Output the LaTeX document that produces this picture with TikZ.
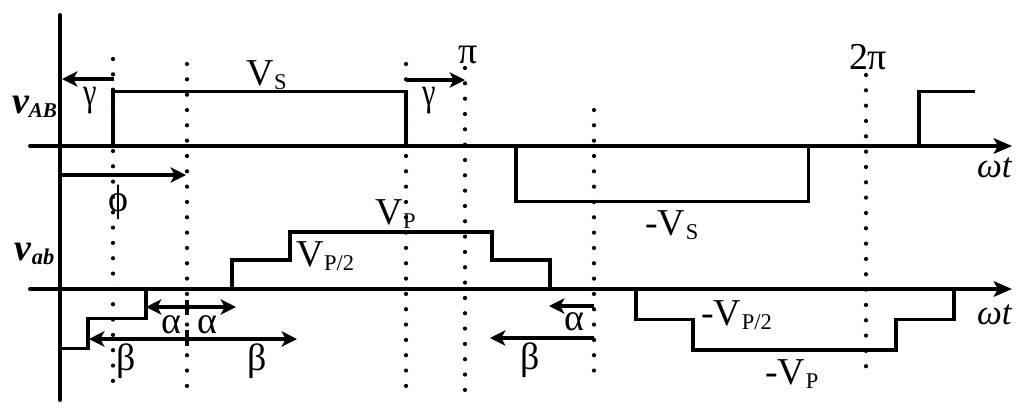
\documentclass[tikz,border=0pt]{standalone}
\usepackage{fontspec}
\setmainfont{Liberation Serif}
\usetikzlibrary{arrows.meta}
\newcommand{\bigsz}{\fontsize{27}{30}\selectfont}
\newcommand{\subsz}{\fontsize{16}{20}\selectfont}
\newcommand{\vsub}[2]{#1\kern0.5pt\raisebox{-3.5pt}{\subsz #2}}
\newcommand{\slimgamma}{\scalebox{0.8}[1.05]{γ}}
\tikzset{
  x=0.025cm,y=-0.025cm,
  axisline/.style={line width=2.8pt,line cap=round},
  wave/.style={line width=2.8pt,line join=miter},
  dimarrow/.style={line width=2.6pt,-{Stealth[length=11pt,width=11pt,inset=3pt]}},
  dimboth/.style={line width=2.6pt,{Stealth[length=11pt,width=11pt,inset=3pt]}-{Stealth[length=11pt,width=11pt,inset=3pt]}},
  tick/.style={line width=2.6pt},
  dots/.style={line width=3pt,line cap=round,dash pattern=on 0pt off 10.9pt},
  lab/.style={anchor=base west,inner sep=0pt,outer sep=0pt,font=\bigsz,text=black}
}
\begin{document}
\begin{tikzpicture}
\useasboundingbox[fill=white] (0,0) rectangle (1024,417);
% named end points
\foreach \n/\x/\y in {d1a/113/59,d1b/113/381,d2a/187/64,d2b/187/386,d3a/406/64,d3b/406/386,d4a/465/68,d4b/465/391,d5a/594/110,d5b/594/371,d6a/866/75,d6b/866/381,
 va/60/15,vb/60/400,ha/30/146,hb/1012/146,ka/30/289,kb/1012/289,
 g1a/114/79,g1b/62/79,g2a/406/80,g2b/465/80,pa/62/175,pb/186/175,
 aa/146/307,ab/236/307,ba/89/339,bb/297/339,ca/594/306,cb/549/306,ea/594/338,eb/490/338,
 t1a/187/300,t1b/187/315,t2a/187/330,t2b/187/346}
 {\coordinate (\n) at (\x,\y);}
% dotted guides
\foreach \n in {d1,d2,d3,d4,d5,d6}{\draw[dots] (\n a) -- (\n b);}
% axes
\draw[axisline] (va) -- (vb);
\draw[axisline,-{Stealth[length=13pt,width=11pt,inset=3pt]}] (ha) -- (hb);
\draw[axisline,-{Stealth[length=13pt,width=11pt,inset=3pt]}] (ka) -- (kb);
% v_AB waveform
\draw[wave] (113,146) -- (113,91.5) -- (406,91.5) -- (406,146);
\draw[wave] (516,146) -- (516,201.5) -- (808.5,201.5) -- (808.5,146);
\draw[wave] (919,146) -- (919,91.5) -- (975,91.5);
% v_ab waveform
\draw[wave] (60,348.5) -- (88,348.5) -- (88,318.5) -- (146,318.5) -- (146,289);
\draw[wave] (232,289) -- (232,260) -- (290,260) -- (290,232) -- (492,232) -- (492,260) -- (550,260) -- (550,289);
\draw[wave] (636,289) -- (636,319.5) -- (693,319.5) -- (693,350) -- (896,350) -- (896,319.5) -- (954,319.5) -- (954,289);
% dimension arrows
\draw[dimarrow] (g1a) -- (g1b);
\draw[dimarrow] (g2a) -- (g2b);
\draw[dimarrow] (pa) -- (pb);
\draw[dimboth] (aa) -- (ab);
\draw[dimboth] (ba) -- (bb);
\draw[dimarrow] (ca) -- (cb);
\draw[dimarrow] (ea) -- (eb);
\draw[tick] (t1a) -- (t1b);
\draw[tick] (t2a) -- (t2b);
% labels
\node[lab] (lvs) at (246,85) {\vsub{V}{S}};
\node[lab] (lmvs) at (645,235) {-\vsub{V}{S}};
\node[lab] (lvp) at (375,224) {\vsub{V}{P}};
\node[lab] (lvp2) at (296,266) {\vsub{V}{P/2}};
\node[lab] (lmvp2) at (701,325) {-\vsub{V}{P/2}};
\node[lab] (lmvp) at (765,384) {-\vsub{V}{P}};
\node[lab] (lg1) at (83,105) {\slimgamma};
\node[lab] (lg2) at (422,105) {\slimgamma};
\node[lab] (la1) at (161,333) {α};
\node[lab] (la2) at (197,333) {α};
\node[lab] (la3) at (564,330) {α};
\node[lab] (lb1) at (116,370) {β};
\node[lab] (lb2) at (247,370) {β};
\node[lab] (lb3) at (520,369) {β};
\node[lab] (lphi) at (108,211) {ϕ};
\node[lab] (lpi) at (458,63) {π};
\node[lab] (l2pi) at (849,69) {2π};
\node[lab,font=\fontsize{25}{30}\selectfont] (lwt1) at (977,177) {\itshape ωt};
\node[lab,font=\fontsize{25}{30}\selectfont] (lwt2) at (977,324) {\itshape ωt};
\node[lab] (lvAB) at (12,113) {\bfseries\itshape v\raisebox{-3.5pt}{\fontsize{15}{20}\selectfont AB}};
\node[lab] (lvab) at (15,260) {\bfseries\itshape v\raisebox{-3.5pt}{\subsz ab}};
\end{tikzpicture}
\end{document}
